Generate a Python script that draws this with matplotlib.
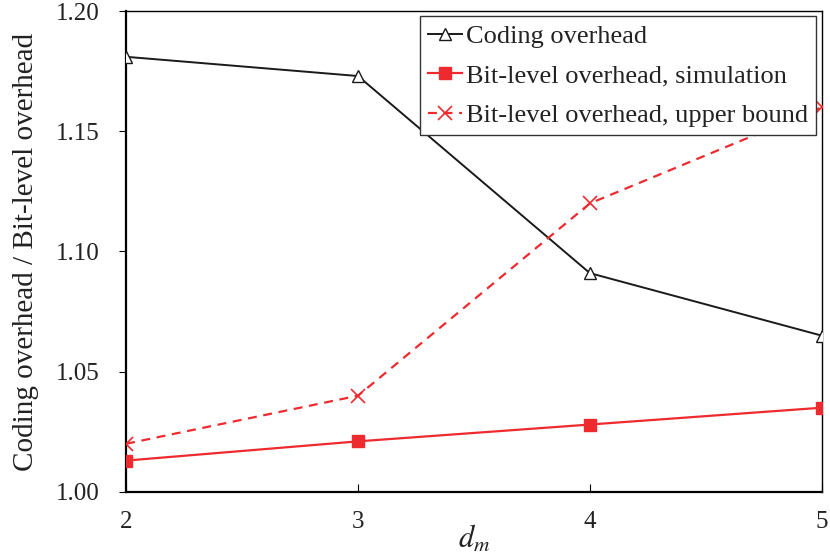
import matplotlib
matplotlib.use('Agg')
import matplotlib.pyplot as plt

plt.rcParams['font.family'] = ['Liberation Serif', 'DejaVu Serif']
plt.rcParams['mathtext.fontset'] = 'stix'

# 数据
dm = [2, 3, 4, 5]
coding_overhead = [1.181, 1.173, 1.091, 1.065]
bit_sim = [1.013, 1.021, 1.028, 1.035]
bit_bound = [1.020, 1.040, 1.120, 1.160]
yticks = [1.00, 1.05, 1.10, 1.15, 1.20]

fig = plt.figure(figsize=(8.3, 5.57), dpi=100)
ax = fig.add_axes([0.152, 0.117, 0.838, 0.863])

red = '#ee2a2f'
ax.plot(dm, coding_overhead, color='#1a1a1a', lw=1.4, marker='^', ms=9,
        mfc='white', mec='#1a1a1a', mew=1.0, label='Coding overhead', zorder=3)
ax.plot(dm, bit_sim, color=red, lw=1.6, marker='s', ms=9,
        mfc=red, mec=red, label='Bit-level overhead, simulation', zorder=3)
ax.plot(dm, bit_bound, color=red, lw=1.6, ls=(0, (4, 3)), marker='x', ms=10,
        mew=1.2, label='Bit-level overhead, upper bound', zorder=3)

ax.set_xlim(2, 5)
ax.set_ylim(1.0, 1.2)
ax.set_xticks(dm)
ax.set_yticks(yticks)
ax.set_yticklabels(['%.2f' % v for v in yticks])
ax.tick_params(axis='x', direction='in', length=6, pad=14, labelsize=18,
               labelcolor='#222222')
ax.tick_params(axis='y', direction='out', length=5, pad=14, labelsize=18,
               labelcolor='#222222')
for s in ax.spines.values():
    s.set_linewidth(1.0)
ax.spines['left'].set_linewidth(1.6)
ax.spines['bottom'].set_linewidth(1.6)

ax.set_xlabel('$d_m$', fontsize=22, labelpad=-7, color='#222222')
ax.set_ylabel('Coding overhead / Bit-level overhead', fontsize=21, labelpad=12,
              color='#222222')

leg = ax.legend(loc='upper right', fontsize=19, handlelength=1.3, handletextpad=0.15,
                borderpad=0.3, labelspacing=0.62, fancybox=False, framealpha=1,
                edgecolor='#333333', borderaxespad=0.2)
leg.get_frame().set_linewidth(1.0)
for t in leg.get_texts():
    t.set_color('#222222')

plt.savefig('out.png', dpi=100)
